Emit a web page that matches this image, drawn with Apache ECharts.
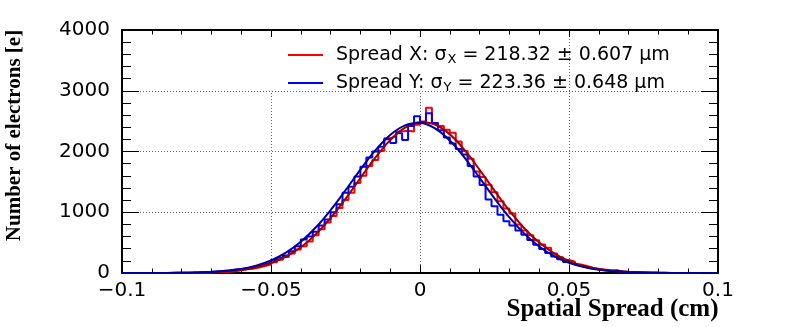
<!DOCTYPE html>
<html>
<head>
<meta charset="utf-8">
<title>Spatial Spread</title>
<script src="https://cdn.jsdelivr.net/npm/echarts@6/dist/echarts.min.js"></script>
<style>
    html, body { margin: 0; padding: 0; background: #fff; }
    #main { width: 793px; height: 327px; }
</style>
</head>
<body>
<div id="main"></div>
<script type="text/javascript">
// histogram: 100 bins of 0.002 cm from -0.1 to 0.1
var binLow = -0.1;
var binWidth = 0.002;
var countsX = [0, 0, 0, 0, 0, 0, 0, 0, 1, 1,
    2, 3, 4, 6, 8, 11, 15, 22, 30, 45,
    60, 70, 90, 115, 140, 175, 220, 265, 320, 385,
    440, 520, 620, 720, 830, 940, 1070, 1200, 1320, 1480,
    1600, 1760, 1860, 2010, 2220, 2250, 2330, 2340, 2330, 2440,
    2495, 2720, 2470, 2420, 2360, 2310, 2165, 2010, 1880, 1670,
    1580, 1453, 1330, 1180, 1060, 980, 800, 700, 620, 540,
    470, 415, 320, 260, 215, 185, 140, 115, 88, 70,
    56, 44, 33, 25, 19, 14, 11, 8, 6, 4,
    3, 2, 2, 1, 1, 0, 0, 0, 0, 0];
var countsY = [0, 0, 0, 0, 0, 0, 1, 2, 3, 4,
    6, 8, 11, 15, 19, 25, 31, 40, 58, 64,
    80, 100, 120, 145, 175, 215, 250, 290, 360, 440,
    550, 600, 680, 780, 880, 1000, 1130, 1320, 1420, 1590,
    1750, 1900, 2000, 2080, 2200, 2140, 2300, 2190, 2420, 2580,
    2480, 2630, 2470, 2350, 2230, 2130, 2040, 1950, 1760, 1590,
    1450, 1210, 1100, 960, 850, 780, 700, 630, 545, 465,
    395, 330, 272, 225, 180, 148, 118, 95, 75, 60,
    47, 38, 45, 24, 17, 13, 9, 7, 5, 4,
    3, 2, 1, 1, 0, 0, 0, 0, 0, 0];

// gaussian fit curves
var fitPos = [-0.1, -0.095, -0.09, -0.085, -0.08, -0.075, -0.07, -0.065, -0.06, -0.055,
    -0.05, -0.045, -0.04, -0.035, -0.03, -0.025, -0.02, -0.015, -0.01, -0.005,
    0, 0.005, 0.01, 0.015, 0.02, 0.025, 0.03, 0.035, 0.04, 0.045,
    0.05, 0.055, 0.06, 0.065, 0.07, 0.075, 0.08, 0.085, 0.09, 0.095, 0.1];
var fitX = [0, 0, 0, 1, 3, 6, 12, 25, 50, 92,
    161, 268, 424, 636, 904, 1220, 1563, 1898, 2188, 2393,
    2482, 2444, 2282, 2022, 1700, 1356, 1026, 737, 502, 324,
    199, 116, 64, 33, 17, 8, 3, 1, 0, 0, 0];
var fitY = [0, 0, 1, 2, 4, 9, 18, 36, 68, 122,
    207, 334, 513, 748, 1036, 1362, 1701, 2017, 2272, 2430,
    2468, 2380, 2180, 1896, 1566, 1229, 915, 648, 435, 278,
    168, 97, 53, 27, 14, 6, 3, 1, 0, 0, 0];

var legendNames = ['Spread X', 'Spread Y'];
var legendSubs = ['X', 'Y'];
var sigmaText = ['218.32 \u00b1 0.607 \u03bcm', '223.36 \u00b1 0.648 \u03bcm'];

function histData(counts) {
    var d = counts.map(function (v, i) { return [binLow + i * binWidth, v]; });
    d.push([binLow + counts.length * binWidth, 0]);
    return d;
}
function fitData(vals) {
    return fitPos.map(function (x, i) { return [x, vals[i]]; });
}

var tickFont = 'DejaVu Sans';
var black = '#000';

var myChart = echarts.init(document.getElementById('main'));
myChart.setOption({
    animation: false,
    backgroundColor: '#fff',
    grid: { left: 122, right: 75, top: 30, bottom: 54, containLabel: false, outerBoundsMode: 'none' },
    legend: {
        data: legendNames,
        orient: 'vertical',
        left: 283,
        top: 39,
        icon: 'rect',
        itemWidth: 35,
        itemHeight: 2,
        itemGap: 6,
        formatter: function (name) {
            var i = legendNames.indexOf(name);
            return name + ': \u03c3{sub|' + legendSubs[i] + '} = ' + sigmaText[i];
        },
        textStyle: {
            fontFamily: tickFont, fontSize: 19, color: black, lineHeight: 22,
            padding: [0, 0, 0, 8],
            rich: { sub: { fontFamily: tickFont, fontSize: 13, color: black, padding: [9, 0, 0, 1] } }
        }
    },
    xAxis: [{
        type: 'value', min: -0.1, max: 0.1, interval: 0.05,
        axisLine: { onZero: false, lineStyle: { color: black, width: 2 } },
        axisTick: { inside: true, length: 8, lineStyle: { color: black } },
        minorTick: { show: true, splitNumber: 5, length: 4.5, lineStyle: { color: black } },
        splitLine: { show: true, lineStyle: { color: '#666', type: [1, 2], width: 1 } },
        axisLabel: {
            margin: 8, fontFamily: tickFont, fontSize: 20, color: black,
            formatter: function (v) { return String(Math.round(v * 1000) / 1000).replace('-', '\u2212'); }
        },
        // pushed right with left padding so it ends under the axis end, as ROOT does
        name: 'Spatial Spread (cm)', nameLocation: 'middle', nameGap: 24, nameMoveOverlap: false,
        nameTextStyle: {
            fontFamily: 'Liberation Serif', fontWeight: 'bold', fontSize: 25, color: black,
            verticalAlign: 'top', padding: [0, 0, 0, 385]
        }
    }, {
        type: 'value', position: 'top', min: -0.1, max: 0.1, interval: 0.05, z: 5,
        axisLine: { onZero: false, lineStyle: { color: black, width: 2 } },
        axisTick: { inside: true, length: 7, lineStyle: { color: black } },
        minorTick: { show: true, splitNumber: 5, length: 4.5, lineStyle: { color: black } },
        splitLine: { show: false },
        axisLabel: { show: false }
    }],
    yAxis: [{
        type: 'value', min: 0, max: 4000, interval: 1000,
        axisLine: { show: true, onZero: false, lineStyle: { color: black, width: 2 } },
        axisTick: { show: true, inside: true, length: 17, lineStyle: { color: black } },
        minorTick: { show: true, splitNumber: 5, length: 9, lineStyle: { color: black } },
        splitLine: { show: true, lineStyle: { color: '#666', type: [1, 2], width: 1 } },
        axisLabel: {
            margin: 12, fontFamily: tickFont, fontSize: 20, color: black,
            formatter: function (v) { return String(v); }
        },
        name: 'Number of electrons [e]', nameLocation: 'middle', nameGap: 97,
        nameTextStyle: {
            fontFamily: 'Liberation Serif', fontWeight: 'bold', fontSize: 21, color: black,
            padding: [0, 0, 0, 32]
        }
    }, {
        type: 'value', position: 'right', min: 0, max: 4000, interval: 1000, z: 5,
        axisLine: { show: true, onZero: false, lineStyle: { color: black, width: 2 } },
        axisTick: { show: true, inside: true, length: 17, lineStyle: { color: black } },
        minorTick: { show: true, splitNumber: 5, length: 9, lineStyle: { color: black } },
        splitLine: { show: false },
        axisLabel: { show: false }
    }],
    series: [{
        name: 'Spread X', type: 'line', step: 'end', symbol: 'none',
        data: histData(countsX),
        lineStyle: { color: '#ff0000', width: 2 },
        itemStyle: { color: '#ff0000' },
        // white box behind the legend, like the ROOT legend pad
        markArea: {
            silent: true,
            itemStyle: { color: '#fff', borderWidth: 0 },
            data: [[{ coord: [-0.05, 3000] }, { coord: [0.031, 4000] }]]
        }
    }, {
        name: 'Spread Y', type: 'line', step: 'end', symbol: 'none',
        data: histData(countsY),
        lineStyle: { color: '#0000ff', width: 2 },
        itemStyle: { color: '#0000ff' }
    }, {
        name: 'fit X', type: 'line', smooth: 0.4, symbol: 'none',
        data: fitData(fitX),
        lineStyle: { color: '#990000', width: 2 },
        itemStyle: { color: '#990000' }
    }, {
        name: 'fit Y', type: 'line', smooth: 0.4, symbol: 'none',
        data: fitData(fitY),
        lineStyle: { color: '#000099', width: 2 },
        itemStyle: { color: '#000099' }
    }]
});
</script>
</body>
</html>
